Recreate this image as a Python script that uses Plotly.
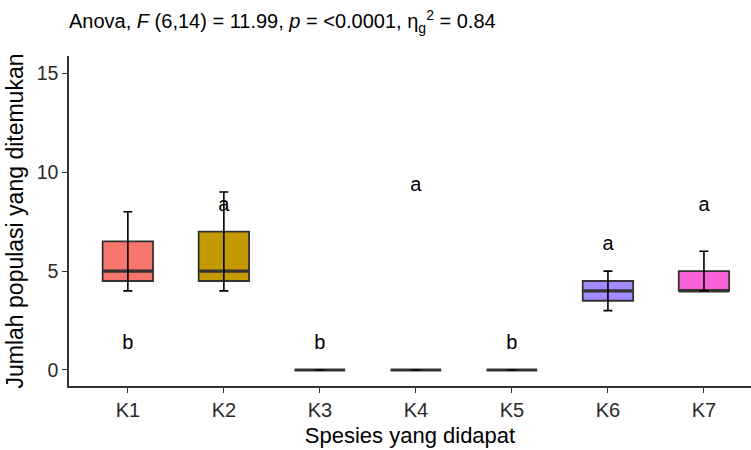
import plotly.graph_objects as go

categories = ["K1", "K2", "K3", "K4", "K5", "K6", "K7"]
q1 = [4.5, 4.5, 0, 0, 0, 3.5, 4.0]
median = [5.0, 5.0, 0, 0, 0, 4.0, 4.0]
q3 = [6.5, 7.0, 0, 0, 0, 4.5, 5.0]
whisker_low = [4, 4, 0, 0, 0, 3, 4]
whisker_high = [8, 9, 0, 0, 0, 5, 6]
letters = ["b", "a", "b", "a", "b", "a", "a"]
letter_y = [1.3, 8.3, 1.3, 9.3, 1.3, 6.3, 8.3]
colors = ["#F8766D", "#C49A00", "#53B400", "#00C094", "#00B6EB", "#A58AFF", "#FB61D7"]

FONT = "Liberation Sans, Arial, sans-serif"

fig = go.Figure()
for i, c in enumerate(categories):
    fig.add_trace(go.Box(
        x=[c], q1=[q1[i]], median=[median[i]], q3=[q3[i]],
        lowerfence=[q1[i]], upperfence=[q3[i]],
        fillcolor=colors[i], line=dict(color="#333333", width=1.8),
        boxpoints=False, showlegend=False, hoverinfo="skip",
    ))
# thicker median line (ggplot style)
for i, c in enumerate(categories):
    fig.add_trace(go.Box(
        x=[c], q1=[median[i]], median=[median[i]], q3=[median[i]],
        lowerfence=[median[i]], upperfence=[median[i]],
        fillcolor="rgba(0,0,0,0)", line=dict(color="#333333", width=3.2),
        boxpoints=False, showlegend=False, hoverinfo="skip",
    ))

fig.add_trace(go.Scatter(
    x=categories, y=median, mode="markers",
    marker=dict(size=1, color="rgba(0,0,0,0)"),
    error_y=dict(type="data", symmetric=False,
                 array=[h - m for h, m in zip(whisker_high, median)],
                 arrayminus=[m - l for m, l in zip(median, whisker_low)],
                 color="black", thickness=1.6, width=4.5),
    showlegend=False, hoverinfo="skip",
))

fig.add_trace(go.Scatter(
    x=categories, y=letter_y, mode="text", text=letters,
    textposition="middle center",
    textfont=dict(family=FONT, size=20, color="black"),
    showlegend=False, hoverinfo="skip",
))

fig.update_layout(
    width=751, height=450,
    margin=dict(l=69, r=0, t=56, b=64),
    plot_bgcolor="white", paper_bgcolor="white",
    boxmode="overlay", boxgap=0.25,
    font=dict(family=FONT, color="black"),
    annotations=[dict(
        text="Anova, <i>F</i> (6,14) = 11.99, <i>p</i> = &lt;0.0001, η<sub>g</sub><sup>2</sup> = 0.84",
        xref="paper", yref="paper", x=0, y=1, xanchor="left", yanchor="bottom",
        xshift=-2, yshift=18, showarrow=False, font=dict(family=FONT, size=20, color="black"),
    )],
)
fig.update_xaxes(
    type="category", range=[-0.613, 6.49], automargin=False,
    showline=True, linecolor="#333333", linewidth=1.5,
    ticks="outside", ticklen=5, tickcolor="#333333", tickwidth=1.2,
    tickfont=dict(family=FONT, size=20, color="#2a2a2a"),
    title=dict(text="Spesies yang didapat", font=dict(family=FONT, size=22, color="black"), standoff=8),
    showgrid=False, zeroline=False,
)
fig.update_yaxes(
    range=[-0.81, 15.875], tickvals=[0, 5, 10, 15], automargin=False,
    showline=True, linecolor="#333333", linewidth=1.5,
    ticks="outside", ticklen=5, tickcolor="#333333", tickwidth=1.2,
    tickfont=dict(family=FONT, size=19.5, color="#2a2a2a"),
    title=dict(text="Jumlah populasi yang ditemukan", font=dict(family=FONT, size=23, color="black"), standoff=7),
    showgrid=False, zeroline=False,
)

fig.write_html("out.html", config={"displayModeBar": False},
               post_script="document.body.style.margin='0';document.body.style.overflow='hidden';")
